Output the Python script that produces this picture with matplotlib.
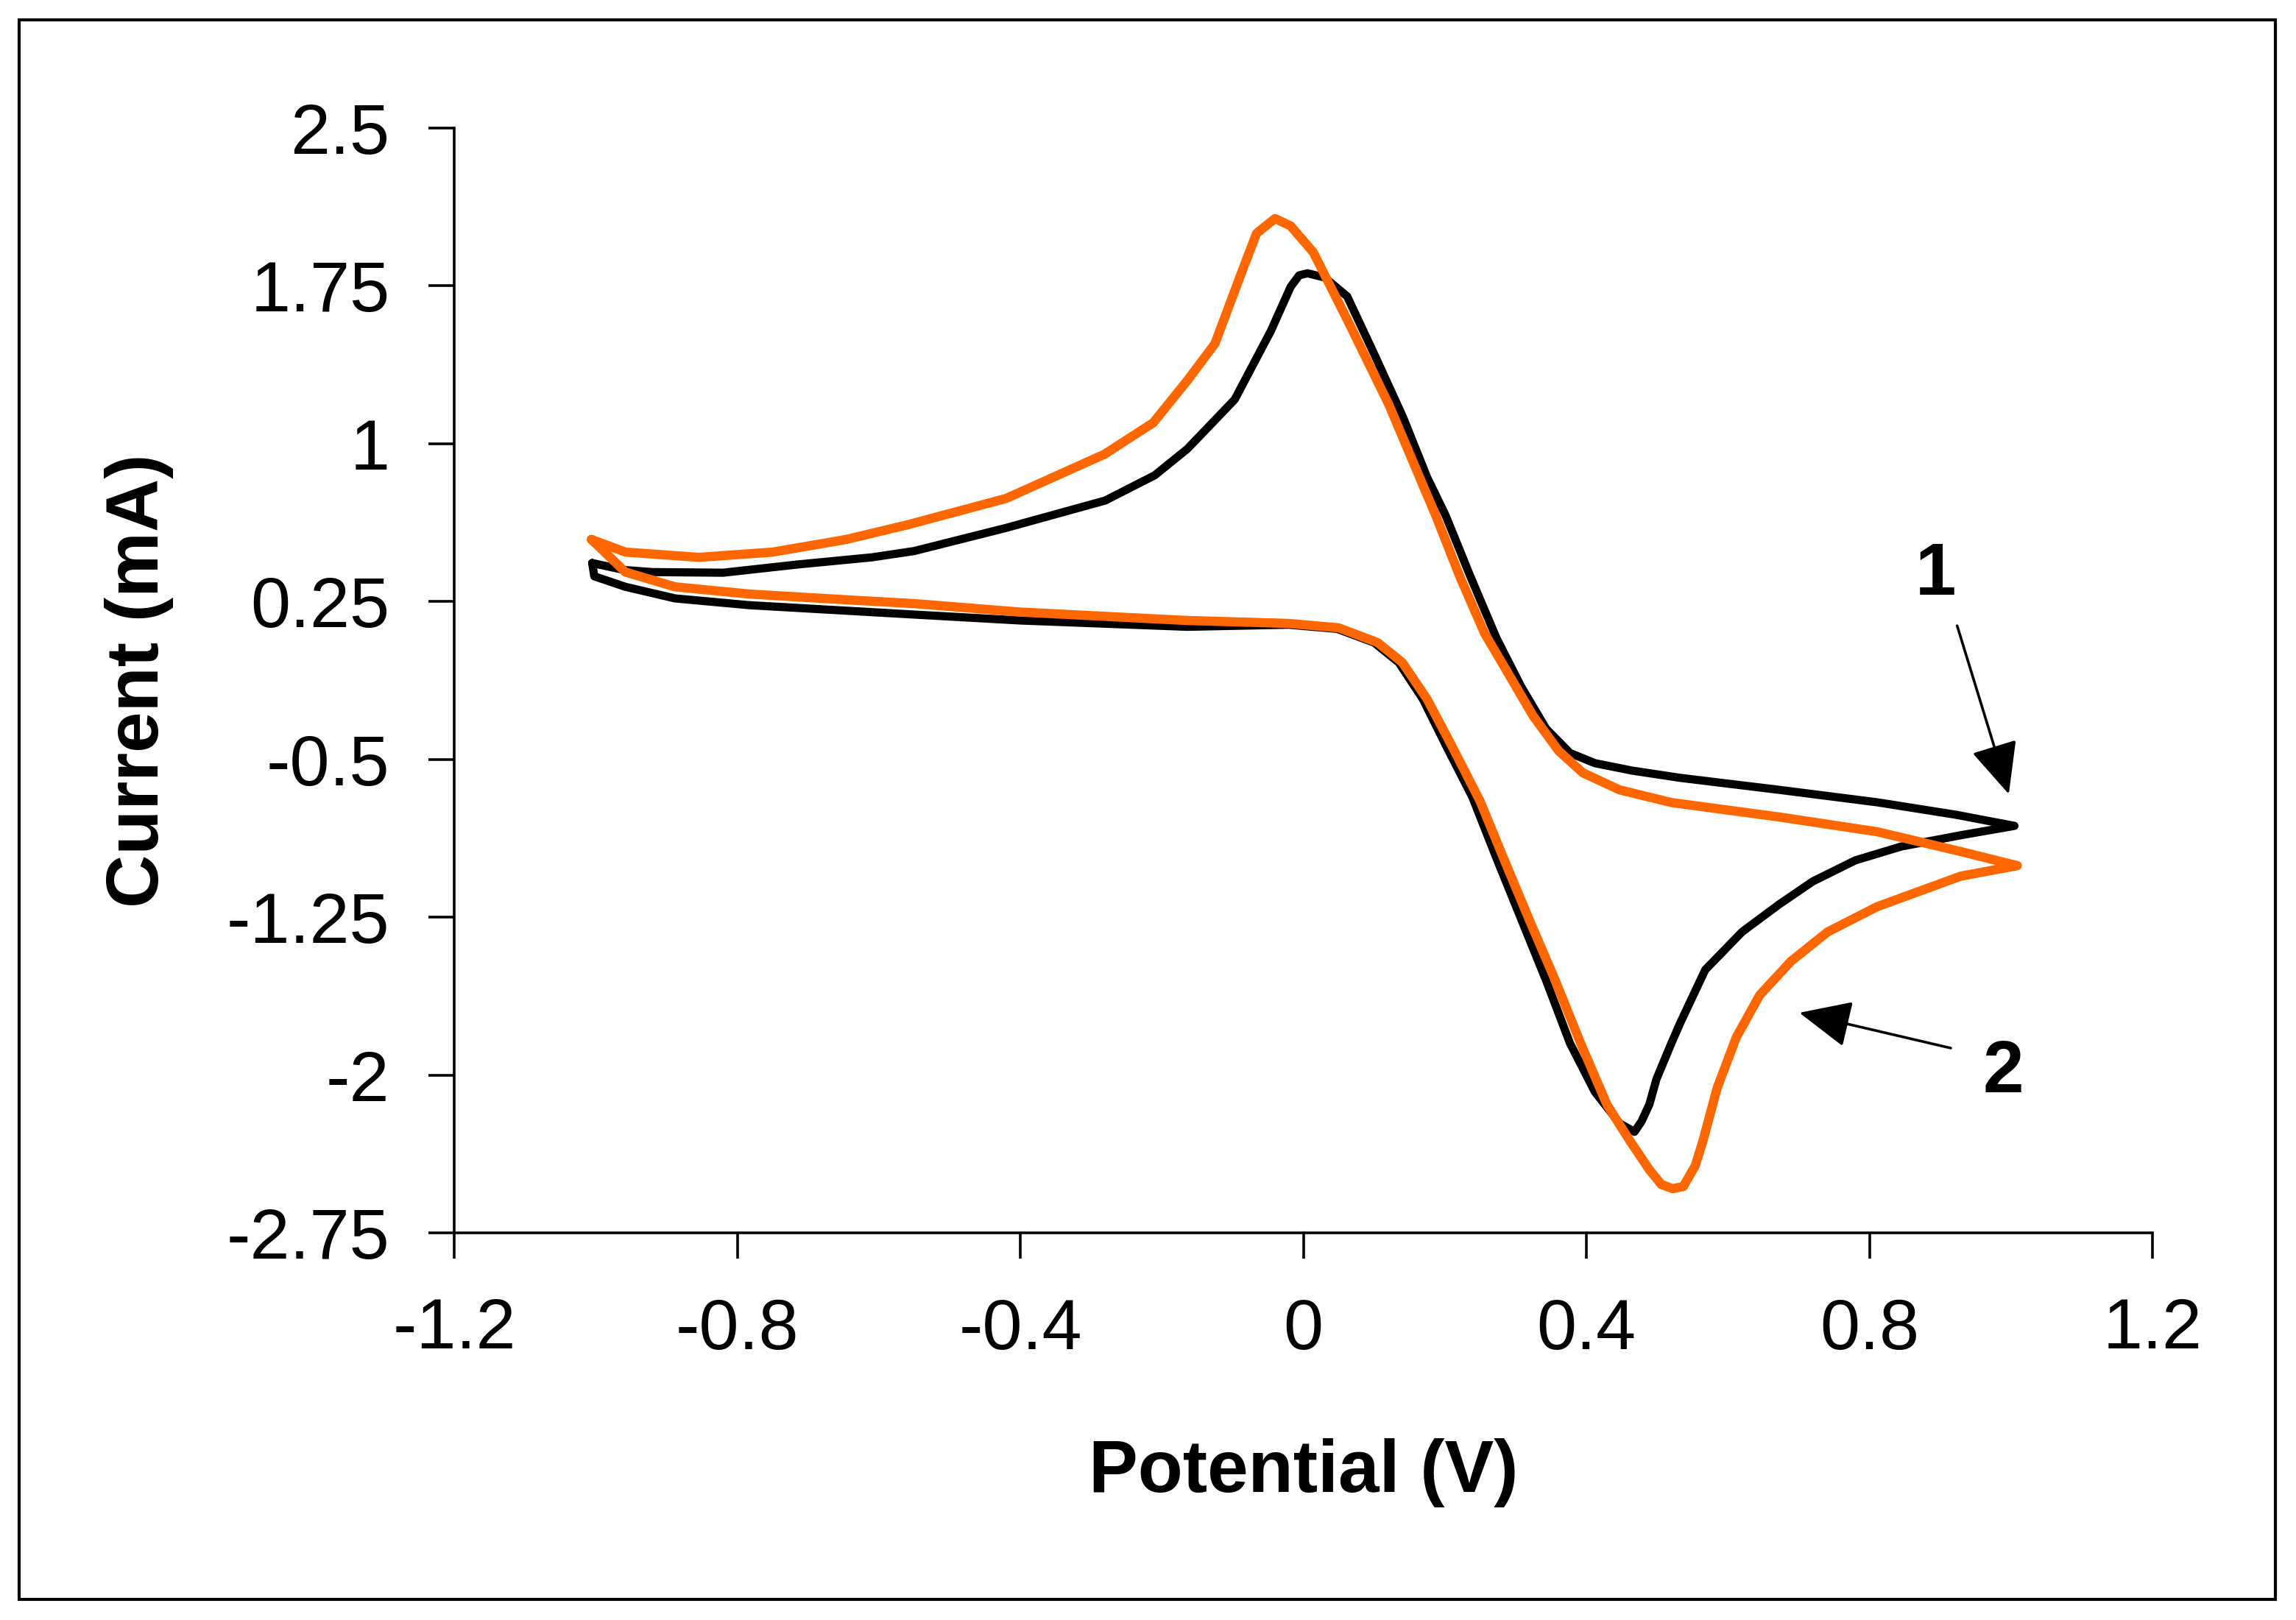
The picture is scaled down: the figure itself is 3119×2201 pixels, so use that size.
import matplotlib
matplotlib.use("Agg")
import matplotlib.pyplot as plt
from matplotlib.patches import Rectangle

plt.rcParams['font.family'] = ['Liberation Sans', 'DejaVu Sans']

# ---- data: curve 1 (black) ----
v1_up = [-1.005, -0.96, -0.92, -0.82, -0.715, -0.61, -0.55, -0.42, -0.28, -0.21, -0.164,
         -0.097, -0.046, -0.018, -0.006, 0.006, 0.03, 0.062, 0.101, 0.141, 0.175, 0.201, 0.236,
         0.273, 0.308, 0.343, 0.377, 0.412, 0.464, 0.533, 0.673, 0.811, 0.922, 1.005]
i1_up = [0.433, 0.40, 0.39, 0.387, 0.426, 0.46, 0.49, 0.60, 0.73, 0.85, 0.975,
         1.21, 1.535, 1.745, 1.80, 1.81, 1.79, 1.70, 1.42, 1.125, 0.84, 0.66, 0.37,
         0.076, -0.155, -0.354, -0.47, -0.518, -0.553, -0.588, -0.645, -0.704, -0.763, -0.816]
v1_dn = [1.005, 0.93, 0.845, 0.78, 0.72, 0.672, 0.62, 0.568, 0.533, 0.52, 0.499, 0.489,
         0.478, 0.468, 0.447, 0.412, 0.377, 0.343, 0.308, 0.273, 0.239, 0.204, 0.169,
         0.135, 0.10, 0.048, -0.021, -0.164, -0.40, -0.549, -0.68, -0.784, -0.888,
         -0.958, -1.002, -1.005]
i1_dn = [-0.816, -0.86, -0.914, -0.98, -1.08, -1.19, -1.32, -1.50, -1.75, -1.85, -2.02, -2.14,
         -2.22, -2.27, -2.23, -2.08, -1.85, -1.55, -1.26, -0.97, -0.68, -0.45, -0.214,
         -0.04, 0.055, 0.12, 0.14, 0.13, 0.16, 0.188, 0.213, 0.233, 0.265,
         0.32, 0.37, 0.433]

# ---- data: curve 2 (orange) ----
v2_up = [-1.006, -0.958, -0.854, -0.75, -0.646, -0.559, -0.42, -0.281, -0.212, -0.164,
         -0.125, -0.086, -0.066, -0.04, -0.018, 0.014, 0.062, 0.121, 0.187, 0.221, 0.256,
         0.291, 0.325, 0.361, 0.395, 0.447, 0.52, 0.673, 0.811, 0.929, 1.009]
i2_up = [0.545, 0.485, 0.46, 0.485, 0.545, 0.615, 0.74, 0.95, 1.10, 1.30,
         1.475, 1.825, 2.0, 2.07, 2.035, 1.91, 1.59, 1.185, 0.66, 0.37, 0.10,
         -0.10, -0.295, -0.46, -0.564, -0.645, -0.705, -0.774, -0.844, -0.938, -1.005]
v2_dn = [1.009, 0.929, 0.811, 0.741, 0.689, 0.645, 0.612, 0.585, 0.565, 0.554, 0.537,
         0.522, 0.506, 0.489, 0.461, 0.429, 0.392, 0.356, 0.319, 0.283, 0.25, 0.212,
         0.175, 0.14, 0.105, 0.05, -0.021, -0.164, -0.40, -0.549, -0.68, -0.784, -0.888,
         -0.958, -1.006]
i2_dn = [-1.005, -1.055, -1.20, -1.32, -1.46, -1.62, -1.82, -2.06, -2.31, -2.43, -2.53,
         -2.54, -2.52, -2.45, -2.31, -2.14, -1.85, -1.55, -1.26, -0.97, -0.70, -0.45,
         -0.214, -0.04, 0.055, 0.125, 0.146, 0.16, 0.20, 0.24, 0.265, 0.286, 0.32,
         0.39, 0.545]

x_ticks = [-1.2, -0.8, -0.4, 0, 0.4, 0.8, 1.2]
x_tick_labels = ["-1.2", "-0.8", "-0.4", "0", "0.4", "0.8", "1.2"]
y_ticks = [2.5, 1.75, 1.0, 0.25, -0.5, -1.25, -2.0, -2.75]
y_tick_labels = ["2.5", "1.75", "1", "0.25", "-0.5", "-1.25", "-2", "-2.75"]

W, H = 3119, 2201
fig = plt.figure(figsize=(W / 100, H / 100), dpi=100)
fig.patch.set_facecolor('white')

# outer frame
fig.patches.append(Rectangle((26 / W, 1 - 2173 / H), (3091 - 26) / W, (2173 - 27) / H,
                             transform=fig.transFigure, fill=False, edgecolor='black',
                             linewidth=3.0))

ax = fig.add_axes([617 / W, 1 - 1675 / H, (2924 - 617) / W, (1675 - 174) / H])

ax.plot(v1_up + v1_dn, i1_up + i1_dn, color='black', lw=8.0,
        solid_joinstyle='round', solid_capstyle='round', zorder=2)
ax.plot(v2_up + v2_dn, i2_up + i2_dn, color='#FF6600', lw=9.0,
        solid_joinstyle='round', solid_capstyle='round', zorder=3)

ax.set_xlim(-1.2, 1.2)
ax.set_ylim(-2.75, 2.5)
ax.set_xticks(x_ticks)
ax.set_xticklabels(x_tick_labels)
ax.set_yticks(y_ticks)
ax.set_yticklabels(y_tick_labels)

for s in ['top', 'right']:
    ax.spines[s].set_visible(False)
for s in ['left', 'bottom']:
    ax.spines[s].set_linewidth(2.6)

ax.tick_params(axis='both', direction='out', length=25, width=2.6,
               labelsize=70, pad=38, colors='black')

ax.set_xlabel("Potential (V)", fontsize=72, fontweight='bold')
ax.xaxis.set_label_coords(0.5, -0.217)
ax.xaxis.label.set_va('center')
ax.set_ylabel("Current (mA)", fontsize=72, fontweight='bold')
ax.yaxis.set_label_coords(-0.1855, 0.5)
ax.yaxis.label.set_va('center')

# annotations
arrow_style = '-|>,head_length=2.2,head_width=1.0'
ax.text(0.894, 0.373, "1", fontsize=72, fontweight='bold', ha='center', va='center')
ax.annotate("", xy=(0.997, -0.665), xytext=(0.924, 0.135),
            arrowprops=dict(arrowstyle=arrow_style, color='black', lw=2.6,
                            mutation_scale=20, shrinkA=0, shrinkB=0))
ax.text(0.989, -1.99, "2", fontsize=72, fontweight='bold', ha='center', va='center')
ax.annotate("", xy=(0.701, -1.704), xytext=(0.915, -1.872),
            arrowprops=dict(arrowstyle=arrow_style, color='black', lw=2.6,
                            mutation_scale=20, shrinkA=0, shrinkB=0))

fig.savefig("out.png", dpi=100, facecolor='white')
